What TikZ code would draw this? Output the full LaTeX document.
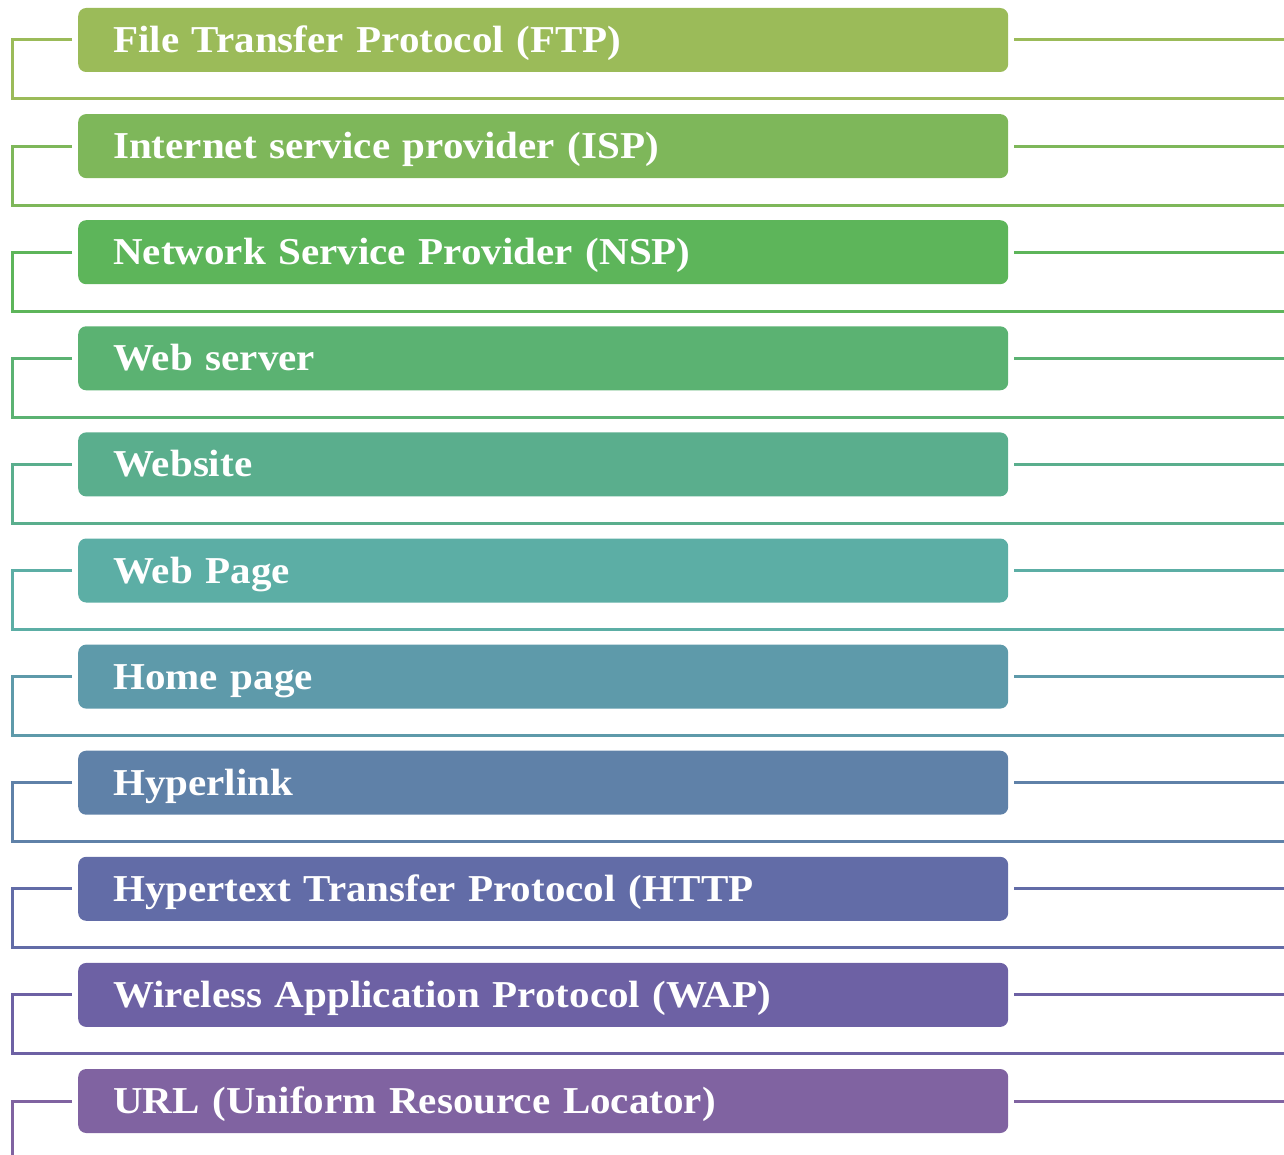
\documentclass[tikz,border=0pt]{standalone}
\usepackage{fontspec}
\setmainfont{Liberation Serif}[FakeStretch=1.08]
\usepackage{tikz}
\usetikzlibrary{positioning,calc}

\definecolor{c1}{HTML}{9BBB59}
\definecolor{c2}{HTML}{7EB75A}
\definecolor{c3}{HTML}{5DB55A}
\definecolor{c4}{HTML}{5BB272}
\definecolor{c5}{HTML}{5AAE8D}
\definecolor{c6}{HTML}{5CAEA5}
\definecolor{c7}{HTML}{5E9AAA}
\definecolor{c8}{HTML}{5F81A8}
\definecolor{c9}{HTML}{626CA7}
\definecolor{c10}{HTML}{6D61A4}
\definecolor{c11}{HTML}{8063A1}

\begin{document}
\begin{tikzpicture}[
  x=1pt, y=-1pt,
  bar/.style={rounded corners=8pt, anchor=west, text=white,
              font=\fontsize{38}{40}\selectfont\bfseries,
              minimum width=930pt, minimum height=64pt,
              text width=860pt, inner xsep=35pt, align=left,
              text height=25pt, text depth=0pt},
  link/.style={line width=3pt},
]
\useasboundingbox (0,0) rectangle (1284,1155);
\foreach \i/\txt in {1/File Transfer Protocol (FTP),
                     2/Internet service provider (ISP),
                     3/Network Service Provider (NSP),
                     4/Web server,
                     5/Website,
                     6/Web Page,
                     7/Home page,
                     8/Hyperlink,
                     9/Hypertext Transfer Protocol (HTTP,
                     10/Wireless Application Protocol (WAP),
                     11/URL (Uniform Resource Locator)}
{
  \pgfmathsetmacro{\cy}{40+106.1*(\i-1)}
  \node[bar, fill=c\i] (b\i) at (78,\cy) {\txt};
  \draw[link, c\i] ([xshift=6pt]b\i.east) -- (1284,\cy);
}
% bracket lines on the left
\foreach \i in {1,...,10}
{
  \coordinate (l\i) at ($(b\i.west)+(-66,59)$);
  \coordinate (r\i) at ($(l\i)+(1272,0)$);
  \draw[link, c\i] ([xshift=-6pt]b\i.west) -- (b\i.west -| l\i) -- (l\i) -- (r\i);
}
\coordinate (l11) at (12,1155);
\draw[link, c11] ([xshift=-6pt]b11.west) -- (b11.west -| l11) -- (l11);
\end{tikzpicture}
\end{document}
